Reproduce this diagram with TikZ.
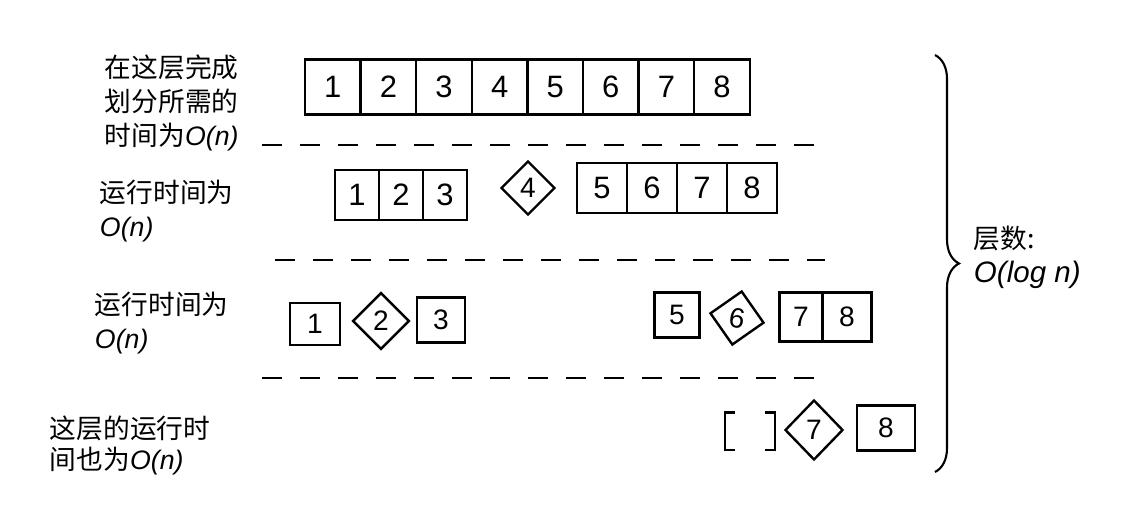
\documentclass[tikz,border=0pt]{standalone}
\usepackage{fontspec}
\setmainfont{Liberation Sans}
\newfontfamily\cjk{Noto Sans CJK SC}
\usetikzlibrary{positioning, calc, shapes.geometric, decorations.pathreplacing}

\newcommand\ordn{{\normalfont\itshape O(n)}}

\begin{document}
\begin{tikzpicture}[
        x=0.025cm, y=-0.025cm,
        cell/.style={rectangle, draw, line width=1.7pt, inner sep=0pt, font=\fontsize{22}{22}\selectfont},
        small/.style={font=\fontsize{20}{20}\selectfont},
        pivot/.style={diamond, draw, line width=1.7pt, inner sep=0pt, font=\fontsize{20}{20}\selectfont},
        note/.style={anchor=west, align=left, font=\cjk\fontsize{19}{24}\selectfont},
        sep/.style={line width=1.7pt, dash pattern=on 0.5cm off 0.45cm}
    ]
        \fill[white] (0,0) rectangle (1136,508);
        \useasboundingbox (0,0) rectangle (1136,508);

        % Level 1: whole array
        \foreach \i in {1,...,8}
            \node[cell, minimum width=1.39cm, minimum height=1.375cm] (a\i) at ({305+55.6*(\i-0.5)},87) {\i};
        \node[note] (t1) at (100,103) {在这层完成\\划分所需的\\时间为\ordn};

        \draw[sep] (262,145) -- (832,145);

        % Level 2
        \foreach \i in {1,2,3}
            \node[cell, minimum width=1.1cm, minimum height=1.25cm] (b\i) at ({335+44*(\i-0.5)},195) {\i};
        \node[pivot, minimum width=1.35cm, minimum height=1.35cm] (b4) at (528,188) {4};
        \foreach \i in {5,...,8}
            \node[cell, minimum width=1.25cm, minimum height=1.25cm] (b\i) at ({577+50*(\i-4.5)},188) {\i};
        \node[note] (t2) at (95,211) {运行时间为\\\ordn};

        \draw[sep] (275,260) -- (825,260);

        % Level 3
        \node[cell, small, minimum width=1.25cm, minimum height=1.05cm] (c1) at (315,324) {1};
        \node[pivot, minimum width=1.42cm, minimum height=1.42cm] (c2) at (381,321) {2};
        \node[cell, small, minimum width=1.2cm, minimum height=1.12cm] (c3) at (441,320) {3};
        \node[cell, small, minimum width=1.12cm, minimum height=1.12cm] (c5) at (677,315) {5};
        \node[pivot, rotate=-10, minimum width=1.37cm, minimum height=1.37cm] (c6) at (737,318) {6};
        \node[cell, small, minimum width=1.08cm, minimum height=1.22cm] (c7) at (801,317) {7};
        \node[cell, small, minimum width=1.22cm, minimum height=1.22cm] (c8) at (847,317) {8};
        \node[note] (t3) at (90,323) {运行时间为\\\ordn};

        \draw[sep] (262,378) -- (822,378);

        % Level 4
        \node[minimum width=1.25cm, minimum height=0.92cm] (d0) at (750,431) {};
        \draw[line width=1.7pt] ([xshift=0.25cm]d0.north west) -- (d0.north west) -- (d0.south west) -- ([xshift=0.25cm]d0.south west);
        \draw[line width=1.7pt] ([xshift=-0.25cm]d0.north east) -- (d0.north east) -- (d0.south east) -- ([xshift=-0.25cm]d0.south east);
        \node[pivot, minimum width=1.45cm, minimum height=1.5cm] (d7) at (814,430) {7};
        \node[cell, small, minimum width=1.45cm, minimum height=1.12cm] (d8) at (886,428) {8};
        \node[note, font=\cjk\fontsize{19}{22}\selectfont] (t4) at (45,445) {这层的运行时\\间也为\ordn};

        % Number of levels
        \coordinate (top) at (935,55);
        \coordinate (bot) at (935,472);
        \draw[decorate, decoration={brace, amplitude=0.6cm}, line width=1.5pt] (top) -- (bot);
        \node[note, right=0.85cm of $(top)!0.5!(bot)$, yshift=0.15cm] (lv) {层数:\\{\normalfont\itshape\fontsize{21}{24}\selectfont O(log n)}};
\end{tikzpicture}
\end{document}
